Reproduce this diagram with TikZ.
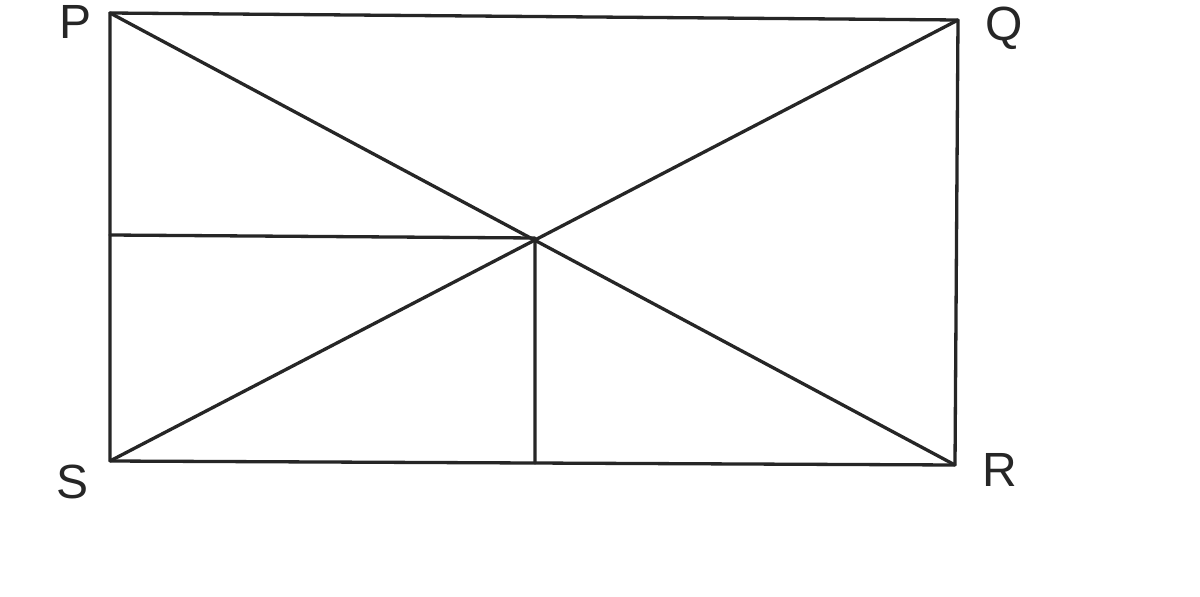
\documentclass[tikz,border=0pt]{standalone}
\usepackage{fontspec}
\setmainfont{Liberation Sans}
\begin{document}
\begin{tikzpicture}[x=1pt,y=-1pt,
  edge/.style={line width=3.3pt,line cap=round,line join=round,draw=black!85},
  lbl/.style={font=\fontsize{48}{48}\selectfont,text=black!85,inner sep=0pt}]
\useasboundingbox (0,0) rectangle (1200,597);
\fill[white] (0,0) rectangle (1200,597);
\coordinate (P) at (110,13);
\coordinate (Q) at (958,20);
\coordinate (R) at (955,465);
\coordinate (S) at (110,461);
\coordinate (O) at (535,238);
\coordinate (L) at (110,235);
\coordinate (B) at (535,463);
\draw[edge] (P) -- (Q) -- (R) -- (S) -- cycle;
\draw[edge] (P) -- (R);
\draw[edge] (Q) -- (S);
\draw[edge] (L) -- (O) -- (B);
\node[lbl] (lP) at (76,22) {P};
\node[lbl] (lQ) at (1004,28) {Q};
\node[lbl] (lS) at (73,482) {S};
\node[lbl] (lR) at (1000,470) {R};
\end{tikzpicture}
\end{document}
